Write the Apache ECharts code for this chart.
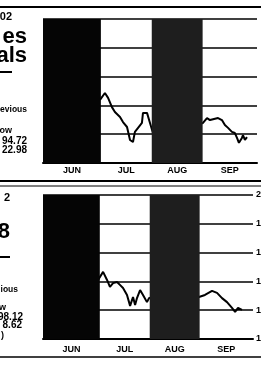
<!DOCTYPE html>
<html>
<head>
<meta charset="utf-8">
<title>chart</title>
<script src="https://cdn.jsdelivr.net/npm/echarts@6/dist/echarts.min.js"></script>
<style>
  html, body { margin: 0; padding: 0; background: #fff; }
  #main { width: 261px; height: 374px; }
</style>
</head>
<body>
<div id="main"></div>
<script>
// month bands (day index from start of June)
var months = ['JUN', 'JUL', 'AUG', 'SEP'];
var monthEdges = [0, 33, 62, 91, 122];
var bandColors = ['#050505', 'rgba(0,0,0,0)', '#1e1e1e', 'rgba(0,0,0,0)'];

// top panel
var topDays = [32.5, 35.3, 37.1, 39.3, 41.0, 43.9, 45.6, 47.9, 49.6, 51.3, 52.4, 54.2, 56.4, 57.0, 59.3, 61.0, 62.7,
    69.5, 78.1, 86.6,
    91.2, 93.5, 95.2, 99.8, 102.0, 103.7, 105.5, 107.7, 109.4, 110.6, 111.7, 113.4, 114.0, 115.1, 116.3];
var topValues = [171.9, 174.3, 172.6, 169.4, 167.7, 166.0, 164.2, 162.5, 158.0, 157.3, 160.8, 162.2, 163.9, 167.4, 167.4, 163.9, 160.4,
    162.2, 163.5, 163.2,
    163.9, 165.6, 164.9, 165.6, 164.9, 163.2, 162.2, 160.8, 160.4, 158.7, 157.0, 158.7, 159.7, 158.0, 159.0];

// bottom panel
var botDays = [32.0, 34.9, 37.2, 38.9, 40.7, 43.0, 44.7, 46.5, 48.8, 50.6, 51.7, 52.3, 53.5, 54.6, 56.4, 58.1, 60.4, 61.6,
    70.9, 79.6, 86.6,
    90.6, 94.1, 98.2, 101.1, 104.0, 106.9, 109.8, 111.6, 113.3, 115.6];
var botValues = [170.5, 173.3, 170.5, 168.1, 169.4, 169.8, 168.8, 167.7, 165.3, 161.5, 163.5, 164.6, 161.8, 164.2, 167.0, 165.3, 162.8, 164.2,
    164.9, 166.3, 164.2,
    164.6, 165.3, 166.7, 166.0, 164.2, 162.8, 160.8, 159.4, 160.8, 160.1];

var yMin = 150, yMax = 200, yStep = 10;

function pairs(xs, ys) {
    var out = [];
    for (var i = 0; i < xs.length; i++) out.push([xs[i], ys[i]]);
    return out;
}

function bands() {
    var out = [];
    for (var i = 0; i < months.length; i++) {
        out.push([{ name: months[i], xAxis: monthEdges[i], itemStyle: { color: bandColors[i] } },
                  { xAxis: monthEdges[i + 1] }]);
    }
    return out;
}

var font = 'Liberation Sans, Arial, sans-serif';

function xAx(idx) {
    return {
        type: 'value', gridIndex: idx, min: 0, max: 122,
        axisLine: { show: true, lineStyle: { color: '#000', width: 2 } },
        axisTick: { show: false }, axisLabel: { show: false }, splitLine: { show: false }
    };
}
function yAx(idx, labels) {
    return {
        type: 'value', gridIndex: idx, min: yMin, max: yMax, interval: yStep, position: 'right',
        axisLine: { show: false }, axisTick: { show: false },
        axisLabel: { show: labels, margin: 3, color: '#000', fontFamily: font, fontWeight: 'bold', fontSize: 9 },
        splitLine: { show: true, lineStyle: { color: '#000', width: 1.5 } }
    };
}
function lineSeries(idx, data) {
    return {
        type: 'line', xAxisIndex: idx, yAxisIndex: idx, data: data, z: 2,
        symbol: 'none', lineStyle: { color: '#000', width: 2 }
    };
}
// bands sit above the line, as in the print
function bandSeries(idx, dist) {
    return {
        type: 'line', xAxisIndex: idx, yAxisIndex: idx, data: [], z: 5,
        markArea: {
            silent: true, z: 5,
            label: { show: true, position: 'bottom', distance: dist, color: '#000',
                     fontFamily: font, fontWeight: 'bold', fontSize: 9 },
            data: bands()
        }
    };
}

function txt(x, y, s, size) {
    return { type: 'text', x: x, y: y, style: { text: s, fill: '#000', align: 'right', verticalAlign: 'middle',
             font: 'bold ' + size + 'px ' + font } };
}
function rule(y, x1, x2, w) {
    return { type: 'line', shape: { x1: x1, y1: y, x2: x2, y2: y }, style: { stroke: '#000', lineWidth: w } };
}

var myChart = echarts.init(document.getElementById('main'));
var option = {
    animation: false,
    backgroundColor: '#fff',
    grid: [
        { left: 43, right: 4, top: 19, height: 144, outerBoundsMode: 'none', containLabel: false },
        { left: 43, right: 8, top: 195, height: 144, outerBoundsMode: 'none', containLabel: false }
    ],
    xAxis: [xAx(0), xAx(1)],
    yAxis: [yAx(0, false), yAx(1, true)],
    series: [lineSeries(0, pairs(topDays, topValues)), lineSeries(1, pairs(botDays, botValues)),
             bandSeries(0, 3), bandSeries(1, 6)],
    graphic: [
        rule(7, 0, 261, 2),
        rule(181, 0, 261, 2),
        rule(186, 0, 261, 1),
        rule(357, 0, 261, 1.5),
        // top panel captions
        txt(12, 17, '02', 11),
        txt(27, 37, 'es', 22),
        txt(27, 56, 'als', 22),
        rule(72, 0, 12, 2),
        txt(27, 110, 'evious', 8.5),
        txt(12, 131, 'ow', 9),
        txt(27, 141, '94.72', 10),
        txt(27, 150, '22.98', 10),
        // bottom panel captions
        txt(10, 198, '2', 11),
        txt(10, 232, '8', 22),
        rule(257, 0, 10, 2),
        txt(18, 290, 'ious', 8.5),
        txt(6, 308, 'w', 9),
        txt(23, 317, '98.12', 10),
        txt(22, 325, '8.62', 10),
        txt(4, 336, ')', 9)
    ]
};
myChart.setOption(option);
</script>
</body>
</html>
